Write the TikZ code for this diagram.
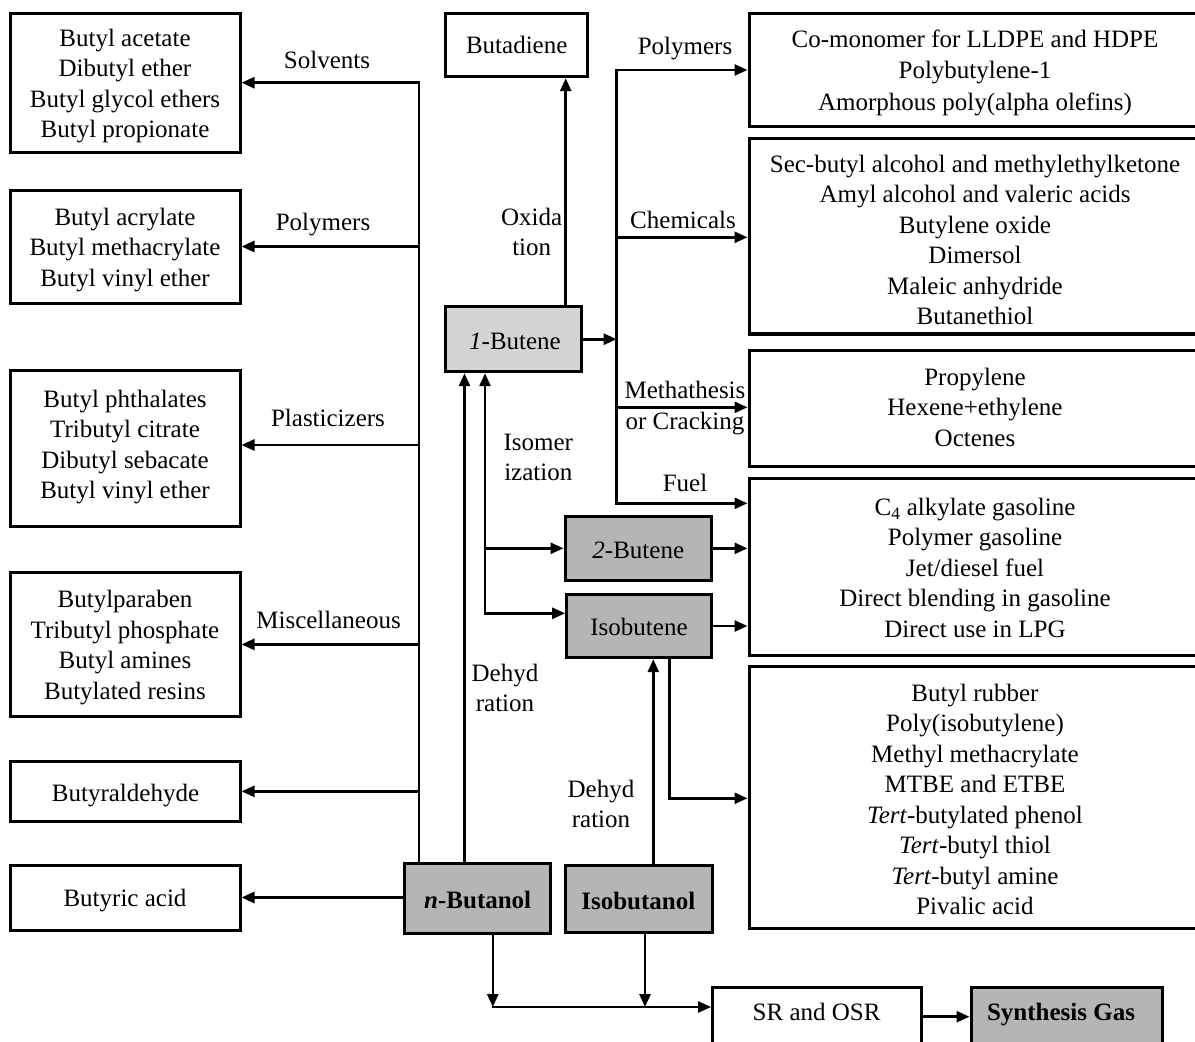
\documentclass[tikz,border=0pt]{standalone}
\usepackage{fontspec}
\setmainfont{Liberation Serif}
\usetikzlibrary{arrows.meta,fit}
\definecolor{lightfill}{HTML}{D4D4D4}
\definecolor{darkfill}{HTML}{B5B5B5}
\begin{document}
\begin{tikzpicture}[x=1pt,y=-1pt,
  every node/.style={font=\fontsize{25}{30.5}\selectfont},
  box/.style={draw,line width=3pt,inner sep=0pt},
  lbox/.style={box,fill=lightfill},
  dbox/.style={box,fill=darkfill},
  txt/.style={inner sep=0pt,align=center,anchor=north},
  one/.style={inner sep=0pt,anchor=base},
  conn/.style={line width=2.6pt,line cap=rect},
  arr/.style={conn,-{Triangle[length=13pt,width=11pt]}}]
\useasboundingbox (0,0) rectangle (1195,1042);
\clip (0,0) rectangle (1195,1042);
% ---------- boxes ----------
\node[box,fit={(10,13.3) (240,152)}] (L1) {};
\node[box,fit={(10,190) (240,303)}] (L2) {};
\node[box,fit={(10,370) (240,526)}] (L3) {};
\node[box,fit={(10,572.7) (240,716)}] (L4) {};
\node[box,fit={(10,761) (240,821.7)}] (L5) {};
\node[box,fit={(10,865) (240,930)}] (L6) {};
\node[dbox,fit={(404.6,863) (550,933)}] (nBut) {};
\node[dbox,fit={(565.5,865) (712.6,932.7)}] (isoBut) {};
\node[box,fit={(445.7,13.3) (587.3,76.7)}] (butadiene) {};
\node[lbox,fit={(445.7,306.7) (581.7,371.7)}] (butene1) {};
\node[dbox,fit={(565,516.7) (711.7,580)}] (butene2) {};
\node[dbox,fit={(566.7,594.3) (711.7,657.7)}] (isobutene) {};
\node[box,fit={(749,13.3) (1203,126.7)}] (R1) {};
\node[box,fit={(749,138.3) (1203,333.3)}] (R2) {};
\node[box,fit={(749,350) (1203,466)}] (R3) {};
\node[box,fit={(749,478.3) (1203,655)}] (R4) {};
\node[box,fit={(749,666.7) (1203,928.3)}] (R5) {};
\node[box,fit={(712.6,987.3) (921.6,1070)}] (SR) {};
\node[dbox,fit={(971,987.3) (1162.2,1070)}] (Syn) {};
% ---------- box texts ----------
\node[txt] (tL1) at (125,28.6) {Butyl acetate\\Dibutyl ether\\Butyl glycol ethers\\Butyl propionate};
\node[txt] (tL2) at (125,207.9) {Butyl acrylate\\Butyl methacrylate\\Butyl vinyl ether};
\node[txt] (tL3) at (125,389.9) {Butyl phthalates\\Tributyl citrate\\Dibutyl sebacate\\Butyl vinyl ether};
\node[txt] (tL4) at (125,590.2) {Butylparaben\\Tributyl phosphate\\Butyl amines\\Butylated resins};
\node[one] (tL5) at (125.5,801.7) {Butyraldehyde};
\node[one] (tL6) at (125,906.7) {Butyric acid};
\node[one] (tnBut) at (477.7,908) {\textbf{\textit{n}-Butanol}};
\node[one] (tisoBut) at (638.3,909.3) {\textbf{Isobutanol}};
\node[one] (tbutadiene) at (516.7,53.3) {Butadiene};
\node[one] (tbutene1) at (515,349) {\textit{1}-Butene};
\node[one] (tbutene2) at (638.3,558.3) {\textit{2}-Butene};
\node[one] (tisobutene) at (639,635) {Isobutene};
\node[txt] (tR1) at (975,29.6) {Co-monomer for LLDPE and HDPE\\[0.8pt]Polybutylene-1\\[0.8pt]Amorphous poly(alpha olefins)};
\node[txt] (tR2) at (975,154.6) {Sec-butyl alcohol and methylethylketone\\Amyl alcohol and valeric acids\\Butylene oxide\\Dimersol\\Maleic anhydride\\Butanethiol};
\node[txt] (tR3) at (975,367.9) {Propylene\\Hexene+ethylene\\Octenes};
\node[txt] (tR4) at (975,497.9) {C\textsubscript{4} alkylate gasoline\\Polymer gasoline\\Jet/diesel fuel\\Direct blending in gasoline\\Direct use in LPG};
\node[txt] (tR5) at (975,683.6) {Butyl rubber\\Poly(isobutylene)\\Methyl methacrylate\\MTBE and ETBE\\\textit{Tert}-butylated phenol\\\textit{Tert}-butyl thiol\\\textit{Tert}-butyl amine\\Pivalic acid};
\node[one] (tSR) at (816.6,1020) {SR and OSR};
\node[one] (tSyn) at (1061,1020.7) {\textbf{Synthesis Gas}};
% redraw R2 bottom border over clipped text
\draw[line width=3pt] (R2.south west) -- (R2.south east);
% ---------- connector labels ----------
\node[one] (lSolv) at (327,68.3) {Solvents};
\node[one] (lPolyL) at (323,230) {Polymers};
\node[one] (lPlast) at (328,426.7) {Plasticizers};
\node[one] (lMisc) at (328.6,628.3) {Miscellaneous};
\node[one] (lPolyR) at (685,54.3) {Polymers};
\node[one] (lChem) at (683,228.3) {Chemicals};
\node[one] (lFuel) at (685,491.7) {Fuel};
\node[txt] (lOx) at (531.7,207.9) {Oxida\\tion};
\node[txt] (lMeth) at (685,381.2) {Methathesis\\or Cracking};
\node[txt] (lIsom) at (538.3,433.6) {Isomer\\ization};
\node[txt] (lDeh1) at (505,663.9) {Dehyd\\ration};
\node[txt] (lDeh2) at (601,779.6) {Dehyd\\ration};
% ---------- connector coordinates ----------
\coordinate (tk) at (419,82.7);
\coordinate (j3) at (419,445);
\coordinate (dh) at (464.5,600);
\coordinate (iso1) at (485,548.3);
\coordinate (iso2) at (485,613.3);
\coordinate (ox) at (565.7,200);
\coordinate (vt) at (616.7,70);
\coordinate (vc) at (616.7,237.3);
\coordinate (vm) at (616.7,407.3);
\coordinate (vb) at (616.7,503.3);
\coordinate (ib) at (669.3,798.3);
\coordinate (ia) at (653.3,760);
\coordinate (b1) at (492.8,1007);
\coordinate (b2) at (645,1007);
\coordinate (sy) at (940,1016.7);
% ---------- n-Butanol trunk ----------
\draw[conn] (nBut.north -| tk) -- (tk);
\draw[arr] (tk) -- (tk -| L1.east);
\draw[arr] (L2.east -| tk) -- (L2.east);
\draw[arr] (j3) -- (j3 -| L3.east);
\draw[arr] (L4.east -| tk) -- (L4.east);
\draw[arr] (L5.east -| tk) -- (L5.east);
\draw[arr] (nBut.west |- L6.east) -- (L6.east);
% ---------- dehydration / isomerization ----------
\draw[arr] (nBut.north -| dh) -- (butene1.south -| dh);
\draw[arr] (iso2) -- (butene1.south -| iso2);
\draw[arr] (iso1) -- (iso1 -| butene2.west);
\draw[arr] (iso2) -- (iso2 -| isobutene.west);
\draw[arr] (butene1.north -| ox) -- (butadiene.south -| ox);
% ---------- 1-butene hub ----------
\draw[arr] (butene1.east) -- (butene1.east -| vt);
\draw[conn] (vt) -- (vb);
\draw[arr] (vt) -- (vt -| R1.west);
\draw[arr] (vc) -- (vc -| R2.west);
\draw[arr] (vm) -- (vm -| R3.west);
\draw[arr] (vb) -- (vb -| R4.west);
\draw[arr] (butene2.east) -- (butene2.east -| R4.west);
\draw[arr] (isobutene.east) -- (isobutene.east -| R4.west);
% ---------- isobutanol / isobutene ----------
\draw[arr] (isoBut.north -| ia) -- (isobutene.south -| ia);
\draw[arr] (isobutene.south -| ib) -- (ib) -- (ib -| R5.west);
% ---------- bottom ----------
\draw[arr] (nBut.south -| b1) -- (b1);
\draw[arr] (isoBut.south -| b2) -- (b2);
\draw[arr] (b1) -- (b1 -| SR.west);
\draw[arr] (SR.east |- sy) -- (Syn.west |- sy);
\end{tikzpicture}
\end{document}
